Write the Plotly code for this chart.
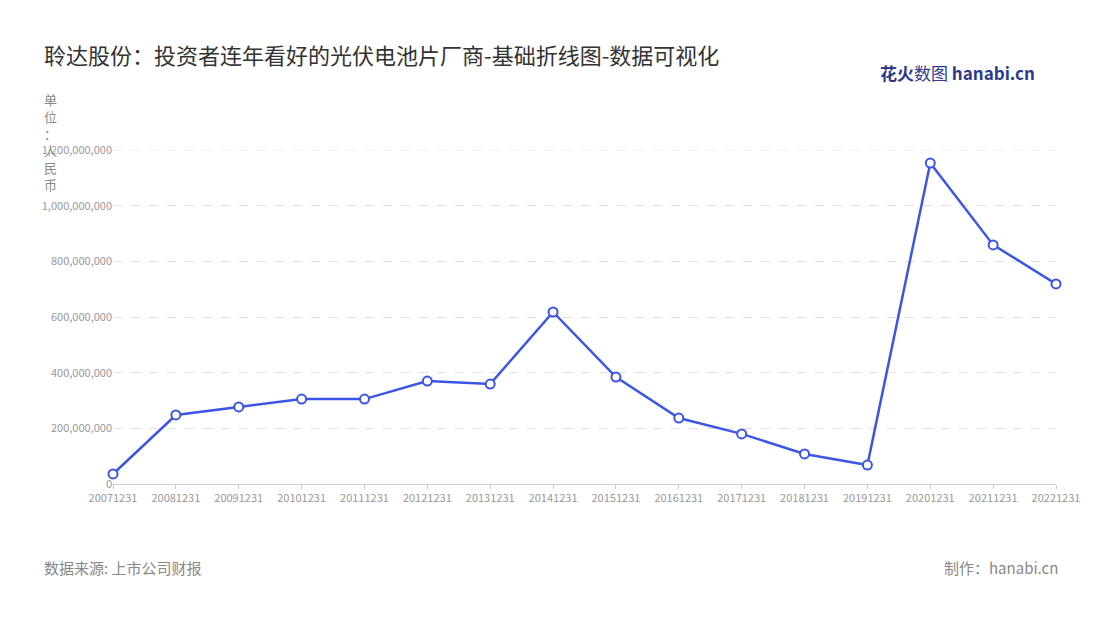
import plotly.graph_objects as go

dates = ["20071231","20081231","20091231","20101231","20111231","20121231","20131231","20141231",
         "20151231","20161231","20171231","20181231","20191231","20201231","20211231","20221231"]
values = [36e6, 248e6, 277e6, 305e6, 305e6, 370e6, 359e6, 618e6,
          384e6, 237e6, 180e6, 108e6, 68e6, 1153e6, 859e6, 719e6]
yticks = [0, 200e6, 400e6, 600e6, 800e6, 1000e6, 1200e6]
ytext = ["0","200,000,000","400,000,000","600,000,000","800,000,000","1,000,000,000","1,200,000,000"]

font = "Noto Sans CJK SC"
W, H = 1084, 604
OFF = 8
L, R, T, B = 113 - OFF, 1064 - OFF, 150 - OFF, 484 - OFF  # plot box in page pixels

fig = go.Figure(go.Scatter(
    x=list(range(len(dates))), y=values, mode="lines+markers",
    line=dict(color="#3b55e6", width=2.5),
    marker=dict(size=9, color="white", line=dict(color="#3b55e6", width=2)),
    cliponaxis=False,
))
fig.update_layout(
    width=W, height=H, paper_bgcolor="white", plot_bgcolor="white",
    margin=dict(l=L, r=W - R, t=T, b=H - B), showlegend=False,
    font=dict(family=font, color="#999", size=11),
    xaxis=dict(tickmode="array", tickvals=list(range(len(dates))), ticktext=dates,
               range=[0, 15], showgrid=False, showline=True, linecolor="#ccc",
               ticks="outside", ticklen=4, tickcolor="#ccc", tickfont=dict(size=11, color="#999")),
    yaxis=dict(range=[0, 1.2e9], tickvals=yticks, ticktext=ytext, showgrid=True,
               gridcolor="#e0e0e0", griddash="dash", zeroline=False,
               tickfont=dict(size=11, color="#999"), ticks=""),
)
fig.add_hline(y=1.2e9, line=dict(color="#e0e0e0", dash="dash", width=1))

ann = [
    dict(text="聆达股份：投资者连年看好的光伏电池片厂商-基础折线图-数据可视化", x=41, y=54,
         xanchor="left", yanchor="middle", font=dict(size=22, color="#333")),
    dict(text="单<br>位<br>：<br>人<br>民<br>币", x=50, y=88, xanchor="center", yanchor="top",
         font=dict(size=13, color="#888"), align="center"),
    dict(text="数据来源: 上市公司财报", x=41, y=567, xanchor="left", yanchor="middle",
         font=dict(size=15, color="#888")),
    dict(text="制作：hanabi.cn", x=1068, y=567, xanchor="right", yanchor="middle",
         font=dict(size=15, color="#888")),
    dict(text="<b>花火</b>数图 <b>hanabi.cn</b>", x=1045, y=72, xanchor="right", yanchor="middle",
         font=dict(size=17, color="#2b3a8c")),
]
for a in ann:
    a = dict(a)
    px, py = a["x"] - OFF, a["y"] - OFF
    a["x"] = (px - L) / (R - L)
    a["y"] = (B - py) / (B - T)
    fig.add_annotation(xref="paper", yref="paper", showarrow=False, **a)
fig.write_html("out.html")
